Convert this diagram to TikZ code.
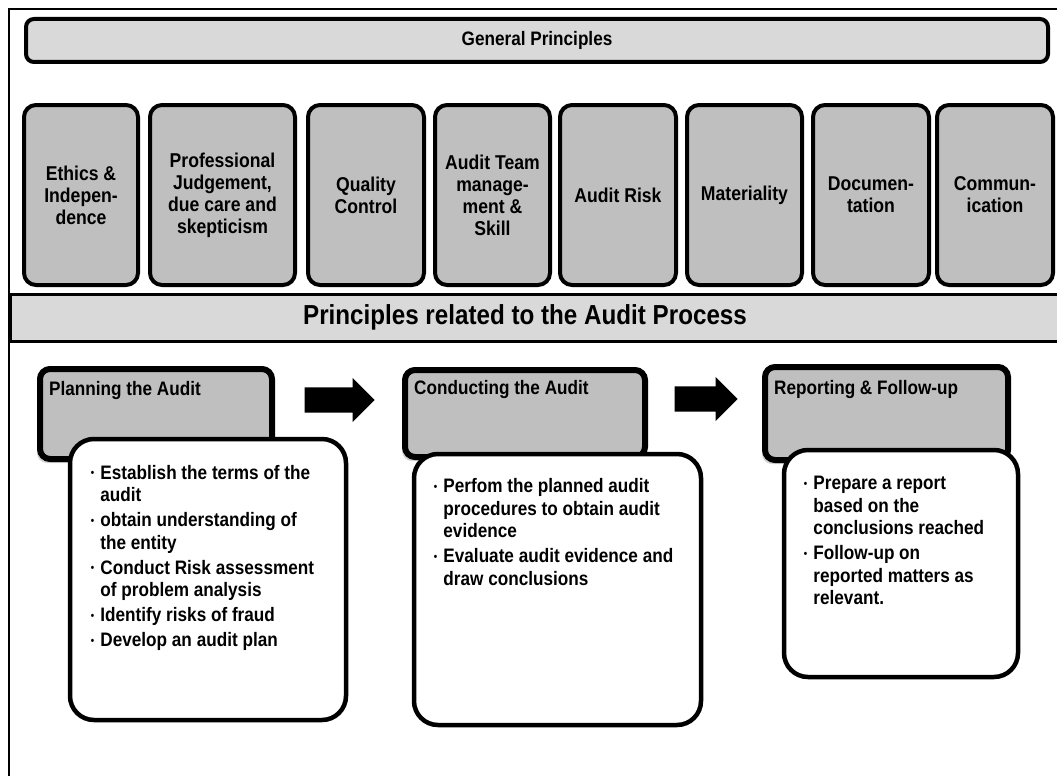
\documentclass[tikz,border=0pt]{standalone}
\usepackage{fontspec}
\setmainfont{Liberation Sans}[FakeStretch=0.88]
\usetikzlibrary{positioning}
\usetikzlibrary{shapes.arrows, shadows}

\newcommand{\tbullet}{\makebox[9.5pt][l]{\fontsize{11}{11}\selectfont\raisebox{2.5pt}{\textbullet}}}

\begin{document}
\begin{tikzpicture}[x=1pt, y=-1pt,
    banner/.style={draw=black, line width=4pt, rounded corners=8pt, fill=black!15, font=\bfseries\fontsize{19.5}{22}\selectfont},
    principle/.style={draw=black, line width=4pt, rounded corners=12pt, fill=black!25, minimum height=180pt, align=center, inner sep=2pt, font=\bfseries\fontsize{20}{22}\selectfont},
    stage/.style={draw=black, line width=6pt, rounded corners=10pt, fill=black!25, drop shadow={shadow xshift=-3pt, shadow yshift=-4pt, opacity=0.35}},
    stagetitle/.style={anchor=base west, inner sep=0pt, font=\bfseries\fontsize{19.5}{22}\selectfont},
    tasks/.style={draw=black, line width=4.5pt, rounded corners=24pt, fill=white},
    tasktext/.style={anchor=north west, inner sep=0pt, font=\bfseries\fontsize{19.5}{22.5}\selectfont},
    blockarrow/.style={single arrow, fill=black, anchor=tip, minimum width=44pt, single arrow head extend=9.5pt, single arrow head indent=0pt, inner xsep=0pt, inner ysep=12.5pt}
]
    \useasboundingbox (0,0) rectangle (1057,776);

    % frame and process band
    \draw[line width=2pt] (9,780) -- (9,9) -- (1060,9);
    \node[draw=black, line width=2.5pt, fill=black!15, anchor=north west, minimum width=1056pt, minimum height=47pt] (band) at (9,293) {};
    \node[font=\bfseries\fontsize{27.5}{30}\selectfont] (processtitle) at (525,317) {Principles related to the Audit Process};

    % general principles
    \node[banner, minimum width=1022pt, minimum height=43pt] (general) at (537,40.5) {General Principles};

    \node[principle, minimum width=114pt] (ethics) at (81,195) {Ethics \&\\ Indepen-\\ dence};
    \node[principle, minimum width=145pt] (judgement) at (222.5,195) {Professional\\ Judgement,\\ due care and\\ skepticism};
    \node[principle, minimum width=116pt] (quality) at (366,195) {Quality\\ Control};
    \node[principle, minimum width=115pt] (team) at (492.5,195) {Audit Team\\ manage-\\ ment \&\\ Skill};
    \node[principle, minimum width=116pt] (risk) at (618,195) {Audit Risk};
    \node[principle, minimum width=115pt] (materiality) at (744.5,195) {Materiality};
    \node[principle, minimum width=116pt] (documentation) at (871,195) {Documen-\\ tation};
    \node[principle, minimum width=116pt] (communication) at (995,195) {Commun-\\ ication};

    % audit process stages
    \node[stage, minimum width=232pt, minimum height=90pt] (planning) at (156,414) {};
    \node[stagetitle] (planningtitle) at ([xshift=12pt, yshift=-29pt]planning.north west) {Planning the Audit};
    \node[stage, minimum width=240pt, minimum height=87pt] (conducting) at (525,413.5) {};
    \node[stagetitle] (conductingtitle) at ([xshift=12pt, yshift=-27pt]conducting.north west) {Conducting the Audit};
    \node[stage, minimum width=243pt, minimum height=93pt] (reporting) at (886.5,413.5) {};
    \node[stagetitle] (reportingtitle) at ([xshift=12pt, yshift=-30pt]reporting.north west) {Reporting \& Follow-up};

    \node[blockarrow, minimum height=70pt] (arrowA) at (375,400) {};
    \node[blockarrow, minimum height=63pt] (arrowB) at (738,399) {};

    \node[tasks, minimum width=276pt, minimum height=281pt] (planningtasks) at (208,579.5) {};
    \node[tasktext] (planninglist) at ([xshift=23pt, yshift=-26.5pt]planningtasks.north west) {%
        \begin{tabular}{@{}l@{}l@{}}
            \tbullet & Establish the terms of the\\
                     & audit\\[2.5pt]
            \tbullet & obtain understanding of\\
                     & the entity\\[2.5pt]
            \tbullet & Conduct Risk assessment\\
                     & of problem analysis\\[2.5pt]
            \tbullet & Identify risks of fraud\\[2.5pt]
            \tbullet & Develop an audit plan
        \end{tabular}};

    \node[tasks, minimum width=287pt, minimum height=271pt] (conductingtasks) at (557.5,589.5) {};
    \node[tasktext] (conductinglist) at ([xshift=22pt, yshift=-25pt]conductingtasks.north west) {%
        \begin{tabular}{@{}l@{}l@{}}
            \tbullet & Perfom the planned audit\\
                     & procedures to obtain audit\\
                     & evidence\\[2.5pt]
            \tbullet & Evaluate audit evidence and\\
                     & draw conclusions
        \end{tabular}};

    \node[tasks, minimum width=234pt, minimum height=227pt] (reportingtasks) at (901,563.5) {};
    \node[tasktext] (reportinglist) at ([xshift=22pt, yshift=-26pt]reportingtasks.north west) {%
        \begin{tabular}{@{}l@{}l@{}}
            \tbullet & Prepare a report\\
                     & based on the\\
                     & conclusions reached\\[2.5pt]
            \tbullet & Follow-up on\\
                     & reported matters as\\
                     & relevant.
        \end{tabular}};
\end{tikzpicture}
\end{document}
